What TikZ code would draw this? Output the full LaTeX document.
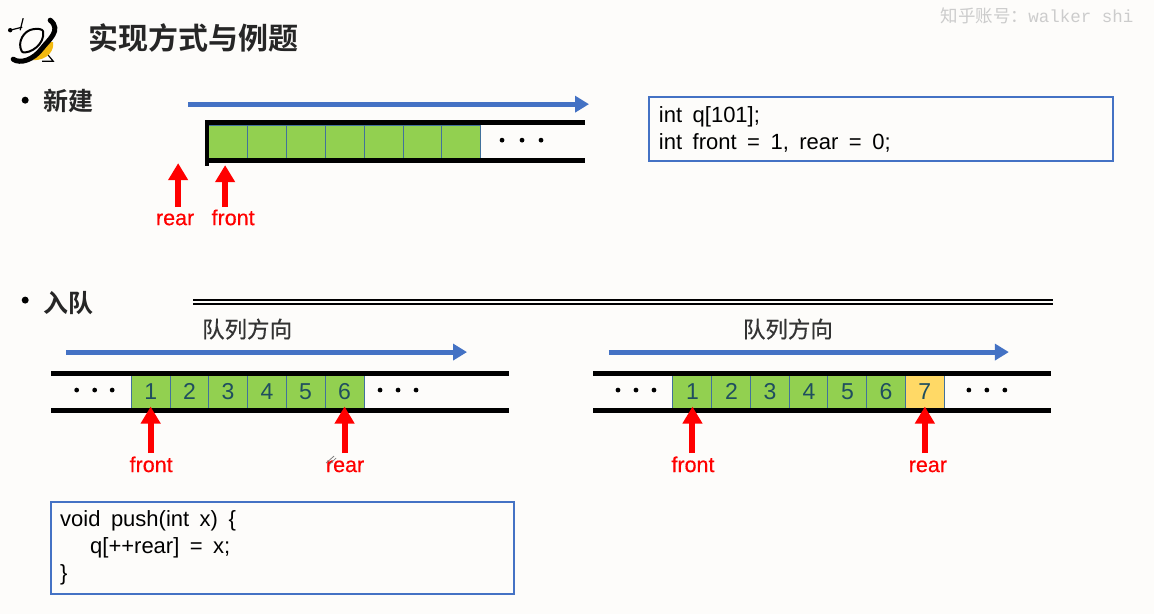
\documentclass[tikz,border=0pt]{standalone}
\usepackage{fontspec}
\setmainfont{Liberation Sans}
\newfontfamily\cjk[FakeBold=0.4]{Noto Sans CJK SC}
\newfontfamily\cjkbold{Noto Sans CJK SC Bold}
\newfontfamily\wmfont{Liberation Mono}
\newfontfamily\ptrfont[FakeBold=0.4]{Liberation Sans}
\newcommand{\widesp}{\spaceskip=10.5pt\relax}
\usetikzlibrary{arrows.meta}
\definecolor{pagebg}{HTML}{FDFCFA}
\definecolor{cellgreen}{HTML}{92D050}
\definecolor{cellyellow}{HTML}{FFD966}
\definecolor{cellline}{HTML}{41719C}
\definecolor{numcolor}{HTML}{1F4E5F}
\definecolor{dirblue}{HTML}{4472C4}
\definecolor{logoyellow}{HTML}{F2B90F}
\tikzset{
	cell/.style={draw=cellline, line width=1pt, fill=cellgreen, minimum width=39pt, minimum height=36pt, inner sep=0pt, text=numcolor, font=\fontsize{23}{23}\selectfont, text height=16pt, text depth=0pt},
	newcell/.style={cell, fill=cellyellow},
	rail/.style={line width=5pt},
	dirarrow/.style={draw=dirblue, line width=5pt, -{Triangle[width=16pt,length=14pt]}},
	ptr/.style={draw=red, line width=6pt, shorten >=-3pt, -{Triangle[width=19pt,length=17pt]}},
	ptrlabel/.style={text=red, anchor=base, font=\fontsize{21.5}{22}\selectfont\ptrfont},
	codebox/.style={draw=dirblue, line width=2pt, align=left, inner sep=0pt, font=\fontsize{22}{27}\selectfont},
	heading/.style={font=\fontsize{25}{25}\selectfont\cjkbold, text=black!85},
	dirlabel/.style={font=\fontsize{22.5}{22}\selectfont\cjk, text=black!80}
}
\begin{document}
\begin{tikzpicture}[x=1pt,y=-1pt]
	\filldraw[pagebg] (0,0) rectangle (1154,613);
	\useasboundingbox (0,0) rectangle (1154,613);

	% logo
	\draw[line width=1.2pt] (10,30) -- (22,27);
	\draw[line width=1.2pt] (23,18) -- (20,30);
	\fill (10,30) circle (2.2);
	\draw[line width=2pt] (22,52) .. controls (16,42) and (24,30) .. (33,29) .. controls (38,28) and (42,29) .. (43,31);
	\draw[line width=2pt] (22,52) .. controls (30,54) and (45,44) .. (43,31);
	\fill[logoyellow] (33,60) -- (48,42) -- (53,42) .. controls (54,50) and (48,60) .. (33,60);
	\draw[line width=1.2pt] (48,55) -- (53,61) -- (42,61);
	\draw[line width=5pt, line cap=round] (13,59) .. controls (20,64) and (33,60) .. (42,48) .. controls (48,40) and (62,30) .. (50,20);

	\node[anchor=west, font=\fontsize{30}{30}\selectfont\cjkbold, text=black!85] (title) at (85,38) {实现方式与例题};
	\node[anchor=east, font=\fontsize{17.5}{18}\selectfont, text=black!20] (mark) at (1137,16) {\fontspec{Noto Sans CJK SC}知乎账号：{\wmfont walker shi}};

	% new queue
	\fill (25,100) circle (3.5);
	\node[heading, anchor=west] (new) at (39.5,101) {新建};
	\coordinate (newS) at (188,104);
	\coordinate (newE) at (589,104);
	\draw[dirarrow] (newS) -- (newE);
	\node[cell, minimum height=34pt] (n1) at (227.5,142) {};
	\node[cell, minimum height=34pt] (n2) at (266.5,142) {};
	\node[cell, minimum height=34pt] (n3) at (305.5,142) {};
	\node[cell, minimum height=34pt] (n4) at (344.5,142) {};
	\node[cell, minimum height=34pt] (n5) at (383.5,142) {};
	\node[cell, minimum height=34pt] (n6) at (422.5,142) {};
	\node[cell, minimum height=34pt] (n7) at (460.5,142) {};
	\draw[rail] (205,122.5) -- (585,122.5);
	\draw[rail] (205,160.5) -- (585,160.5);
	\draw[line width=4.5pt] (207,120) -- (207,166);
	\fill (502,140) circle (2.4);
	\fill (522,140) circle (2.4);
	\fill (541,140) circle (2.4);
	\coordinate (nrearT) at (178,207);
	\coordinate (nrearH) at (178,166);
	\coordinate (nfrontT) at (225,207);
	\coordinate (nfrontH) at (225,168);
	\draw[ptr] (nrearT) -- (nrearH);
	\draw[ptr] (nfrontT) -- (nfrontH);
	\node[ptrlabel] (nrear) at (175,225) {rear};
	\node[ptrlabel] (nfront) at (233,225) {front};
	\node[codebox, minimum width=464pt, minimum height=64pt, text width=444pt] (newcode) at (881,129) {\widesp int q[101];\\int front = 1, rear = 0;};

	\fill (25,300) circle (3.5);
	\node[heading, anchor=west] (push) at (39.5,303) {入队};
	\draw[line width=2pt] (193,299.5) -- (1053,299.5);
	\draw[line width=2pt] (193,304) -- (1053,304);

	% before push
	\node[dirlabel] (ldir) at (247,329) {队列方向};
	\coordinate (lS) at (66,352);
	\coordinate (lE) at (467,352);
	\draw[dirarrow] (lS) -- (lE);
	\node[cell] (a1) at (150.5,391) {1};
	\node[cell] (a2) at (189.5,391) {2};
	\node[cell] (a3) at (228,391) {3};
	\node[cell] (a4) at (267,391) {4};
	\node[cell] (a5) at (305.5,391) {5};
	\node[cell] (a6) at (344.5,391) {6};
	\draw[rail] (51,373) -- (509,373);
	\draw[rail] (51,410) -- (509,410);
	\fill (76.5,390) circle (2.4);
	\fill (94.5,390) circle (2.4);
	\fill (112,390) circle (2.4);
	\fill (380,390) circle (2.4);
	\fill (398,390) circle (2.4);
	\fill (416,390) circle (2.4);
	\coordinate (afrontT) at (150.5,453);
	\coordinate (arearT) at (344.5,453);
	\draw[ptr] (afrontT) -- (a1.south);
	\draw[ptr] (arearT) -- (a6.south);
	\node[ptrlabel] (afront) at (151,472) {front};
	\node[ptrlabel] (arear) at (345,472) {rear};
	\draw[gray, line width=.8pt] (326,463) -- (334,456);
	\draw[gray, line width=.8pt] (329,465) -- (336,458);

	% after push
	\node[dirlabel] (rdir) at (788,329) {队列方向};
	\coordinate (rS) at (609,352);
	\coordinate (rE) at (1009,352);
	\draw[dirarrow] (rS) -- (rE);
	\node[cell] (b1) at (692.5,391) {1};
	\node[cell] (b2) at (731.5,391) {2};
	\node[cell] (b3) at (770,391) {3};
	\node[cell] (b4) at (809,391) {4};
	\node[cell] (b5) at (847.5,391) {5};
	\node[cell] (b6) at (886,391) {6};
	\node[newcell] (b7) at (925,391) {7};
	\draw[rail] (593,373) -- (1051,373);
	\draw[rail] (593,410) -- (1051,410);
	\fill (618,390) circle (2.4);
	\fill (636,390) circle (2.4);
	\fill (654,390) circle (2.4);
	\fill (969,390) circle (2.4);
	\fill (987,390) circle (2.4);
	\fill (1005,390) circle (2.4);
	\coordinate (bfrontT) at (692.5,453);
	\coordinate (brearT) at (925,453);
	\draw[ptr] (bfrontT) -- (b1.south);
	\draw[ptr] (brearT) -- (b7.south);
	\node[ptrlabel] (bfront) at (693,472) {front};
	\node[ptrlabel] (brear) at (928,472) {rear};

	\node[codebox, minimum width=463pt, minimum height=92pt, text width=445pt] (pushcode) at (282.5,548) {\widesp void push(int x) \{\\\hspace*{30pt}q[++rear] = x;\\\}};
\end{tikzpicture}
\end{document}
